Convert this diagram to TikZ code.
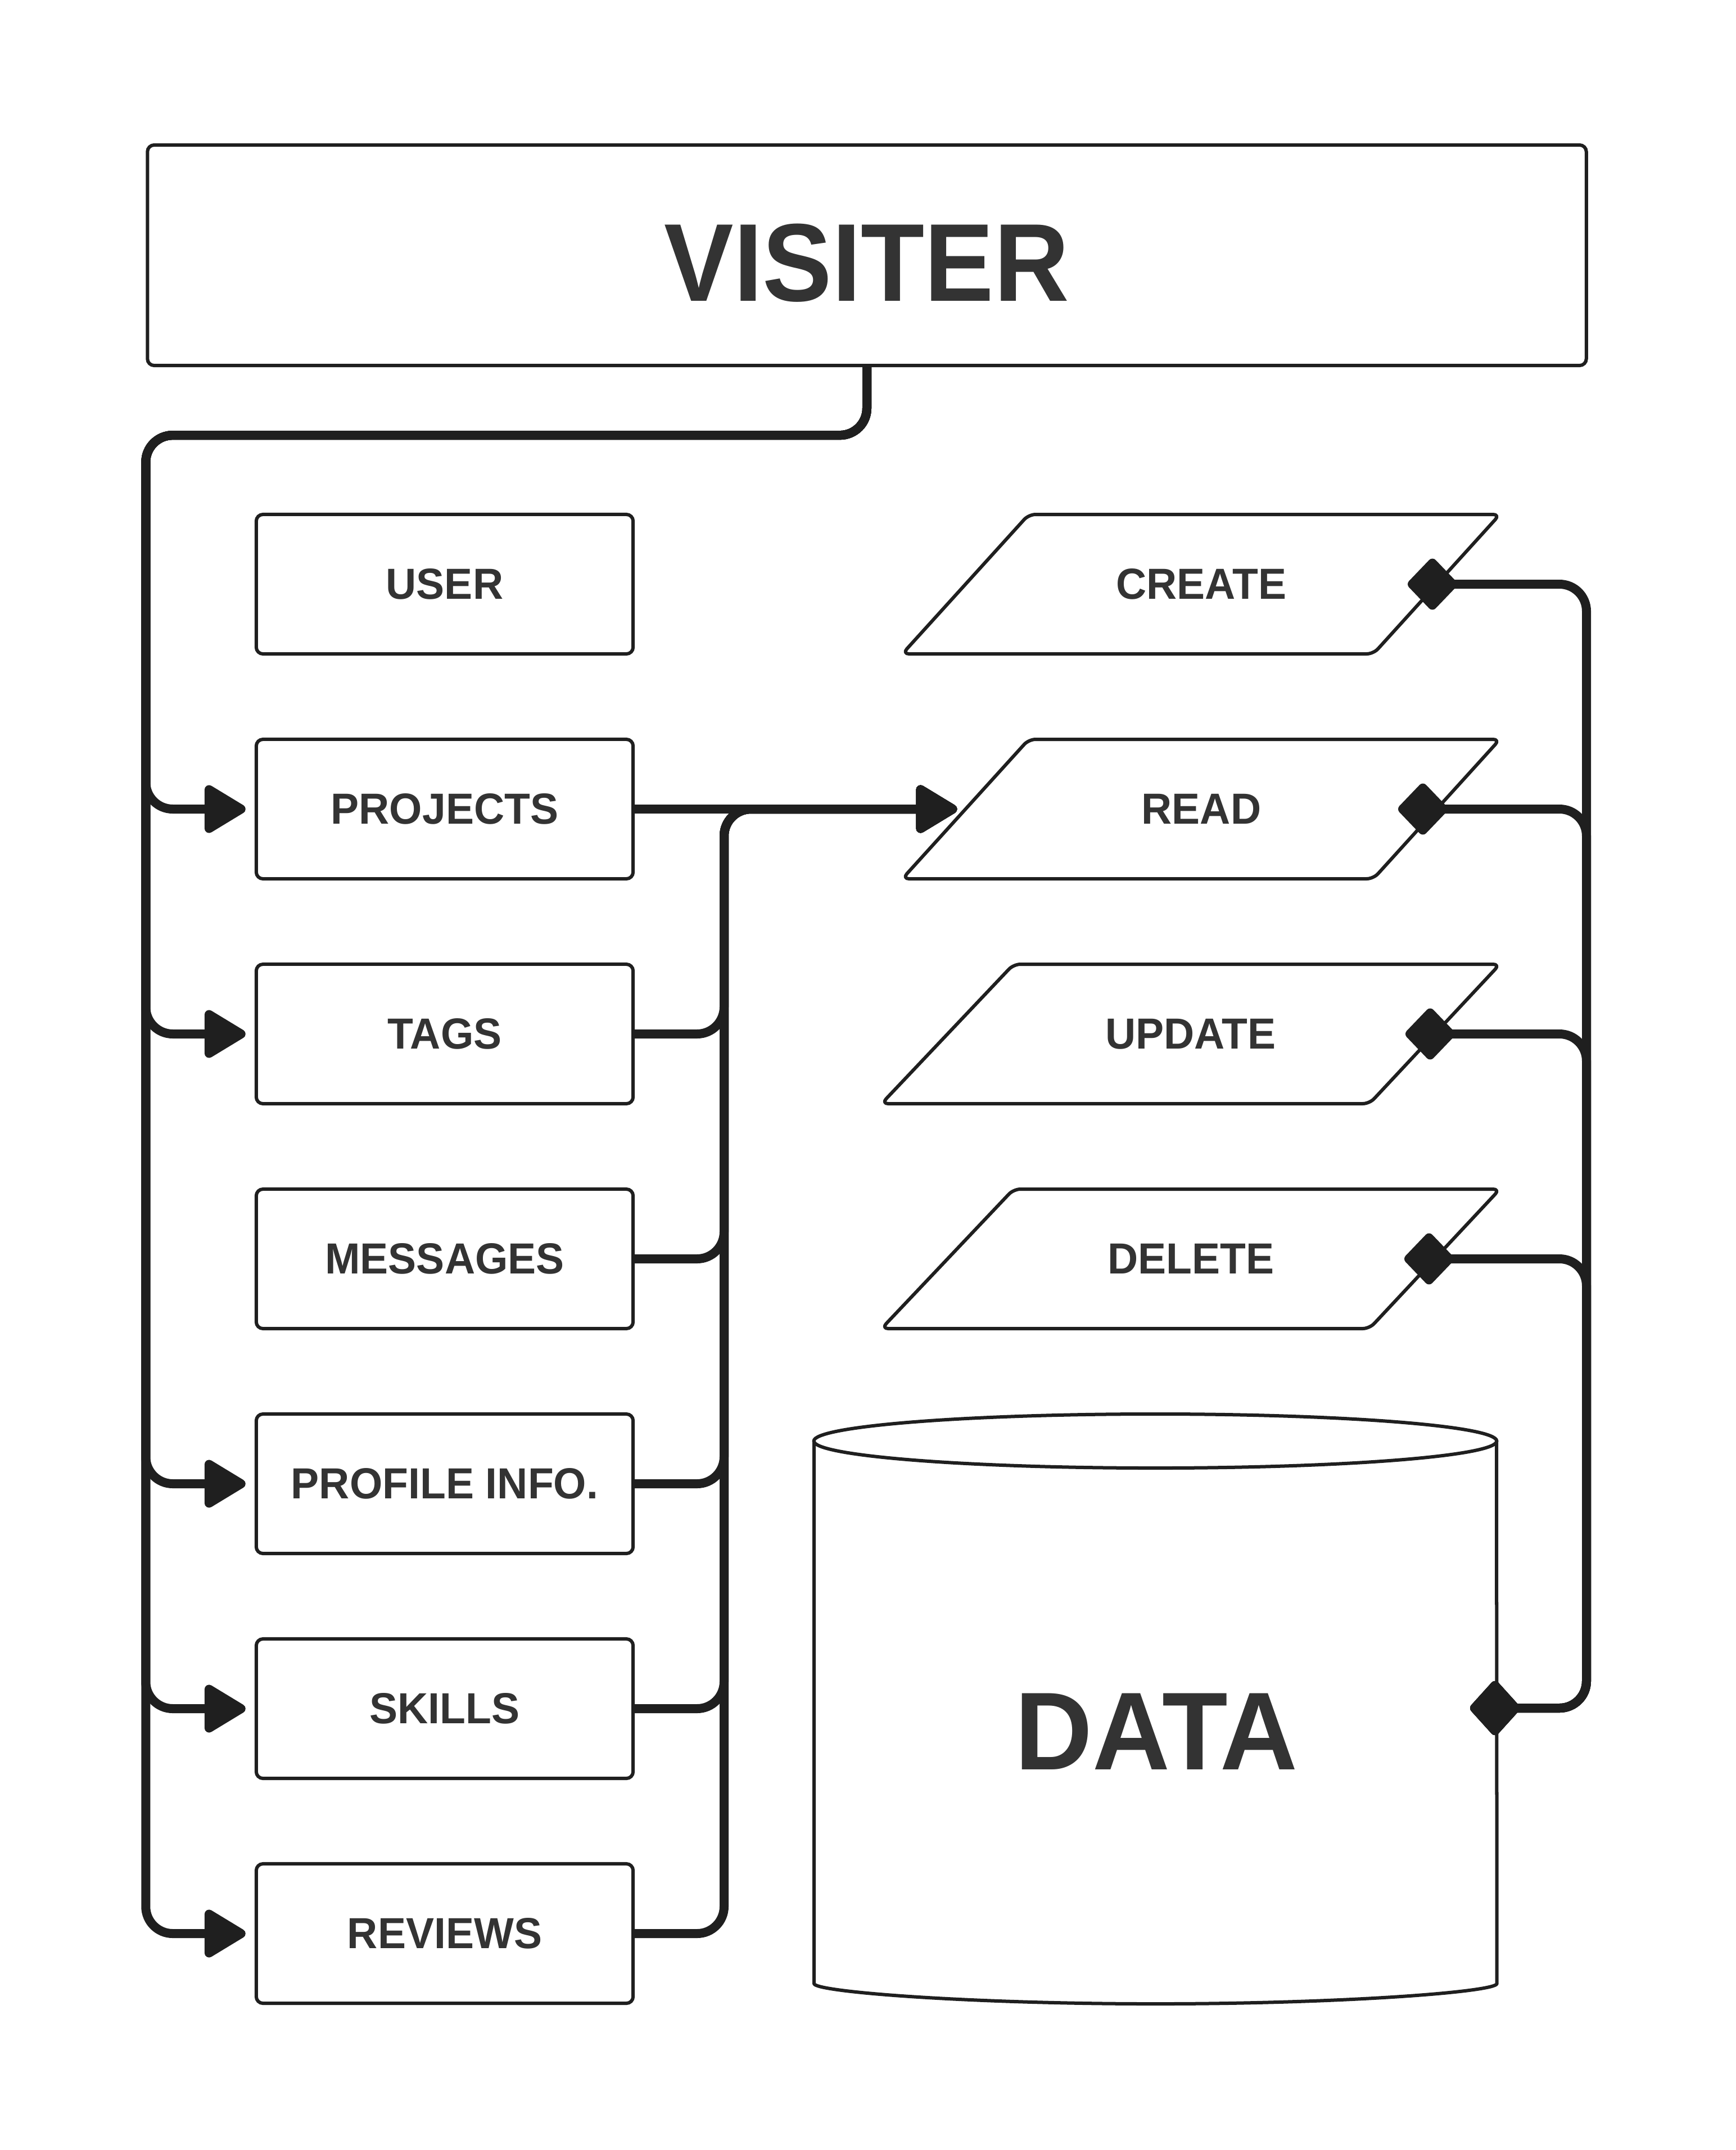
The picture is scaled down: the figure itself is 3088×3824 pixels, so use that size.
\documentclass[tikz,border=0pt]{standalone}
\usepackage{fontspec}
\setmainfont{Liberation Sans}[FakeStretch=0.97]
\newfontfamily\visfont{Liberation Sans}[FakeStretch=0.94]
\newfontfamily\datafont{Liberation Sans}[FakeStretch=0.97]
\usetikzlibrary{arrows.meta,calc}
\definecolor{ln}{HTML}{1F1F1F}
\definecolor{tx}{HTML}{333333}
\begin{document}
\begin{tikzpicture}[x=0.01cm, y=-0.01cm,
  box/.style={draw=ln, line width=0.06cm, rounded corners=0.12cm, minimum width=6.70cm, minimum height=2.48cm, inner sep=0pt, font=\fontsize{22}{26}\selectfont\bfseries, text=tx},
  lbl/.style={font=\fontsize{22}{26}\selectfont\bfseries, text=tx, inner sep=0pt},
  big/.style={font=\fontsize{56}{64}\selectfont\bfseries, text=tx, inner sep=0pt},
  shp/.style={draw=ln, line width=0.06cm, rounded corners=0.12cm, line join=round},
  conn/.style={draw=ln, line width=0.16cm, rounded corners=0.48cm},
  arr/.style={-{Triangle[round, length=0.81cm, width=0.93cm]}},
  dia/.style={{Diamond[round, length=0.94cm, width=0.98cm]}-{Diamond[round, length=0.94cm, width=1.04cm]}},
]
\useasboundingbox (0,0) rectangle (3088,3824);
\fill[white] (0,0) rectangle (3088,3824);

% title box
\node[draw=ln, line width=0.06cm, rounded corners=0.12cm, minimum width=25.58cm, minimum height=3.92cm, inner sep=0pt] (visiter) at (1542,454) {};
\node[big, font=\visfont\fontsize{56}{64}\selectfont\bfseries] (visitertitle) at (1542,468) {VISITER};

% left boxes
\node[box] (user) at (791,1039) {USER};
\node[box] (projects) at (791,1439) {PROJECTS};
\node[box] (tags) at (791,1839) {TAGS};
\node[box] (messages) at (791,2239) {MESSAGES};
\node[box] (profile) at (791,2639) {PROFILE INFO.};
\node[box] (skills) at (791,3039) {SKILLS};
\node[box] (reviews) at (791,3439) {REVIEWS};

% parallelograms
\draw[shp] (2249,915) -- (2668,915) -- (2443,1163) -- (1605,1163) -- (1830,915) -- cycle;
\draw[shp] (2249,1315) -- (2668,1315) -- (2443,1563) -- (1605,1563) -- (1830,1315) -- cycle;
\draw[shp] (2235,1715) -- (2668,1715) -- (2436,1963) -- (1568,1963) -- (1803,1715) -- cycle;
\draw[shp] (2235,2115) -- (2668,2115) -- (2436,2363) -- (1568,2363) -- (1803,2115) -- cycle;
\node[lbl] (create) at (2137,1039) {CREATE};
\node[lbl] (read) at (2137,1439) {READ};
\node[lbl] (update) at (2118,1839) {UPDATE};
\node[lbl] (delete) at (2118,2239) {DELETE};

% cylinder
\draw[shp] (1448,2563) -- (1448,3516) arc[start angle=180, end angle=360, x radius=6.07cm, y radius=0.48cm] -- (2662,2563);
\draw[draw=ln, line width=0.06cm] (2055,2563) ellipse[x radius=6.07cm, y radius=0.48cm];
\node[big, font=\datafont\fontsize{56}{64}\selectfont\bfseries] (data) at (2057,3080) {DATA};

% helper coordinates
\coordinate (readL) at (1717.5,1439);
\coordinate (mbus) at (1288,1439);
\coordinate (rbus) at (2822,3038);
\coordinate (dataE) at (2662,3038);
\coordinate (create-d) at (2551,1039);
\coordinate (read-d) at (2534,1439);
\coordinate (update-d) at (2547,1839);
\coordinate (delete-d) at (2545,2239);

% left bus
\foreach \t in {projects,tags,profile,skills,reviews}
  \draw[conn, arr, shorten >=0.16cm] (visiter.south) -- ++(0,121) -| (visiter.west |- \t.west) -- (\t.west);

% middle bus
\draw[conn, arr, shorten >=0.15cm] (projects.east) -- (readL);
\foreach \t in {tags,messages,profile,skills,reviews}
  \draw[conn, arr, shorten >=0.15cm] (\t.east) -| (mbus) -- (readL);

% right bus
\foreach \s in {create,read,update,delete}
  \draw[conn, dia] ($(\s-d)+(-47,0)$) -| (rbus) -- ($(dataE)+(-47,0)$);
\end{tikzpicture}
\end{document}
